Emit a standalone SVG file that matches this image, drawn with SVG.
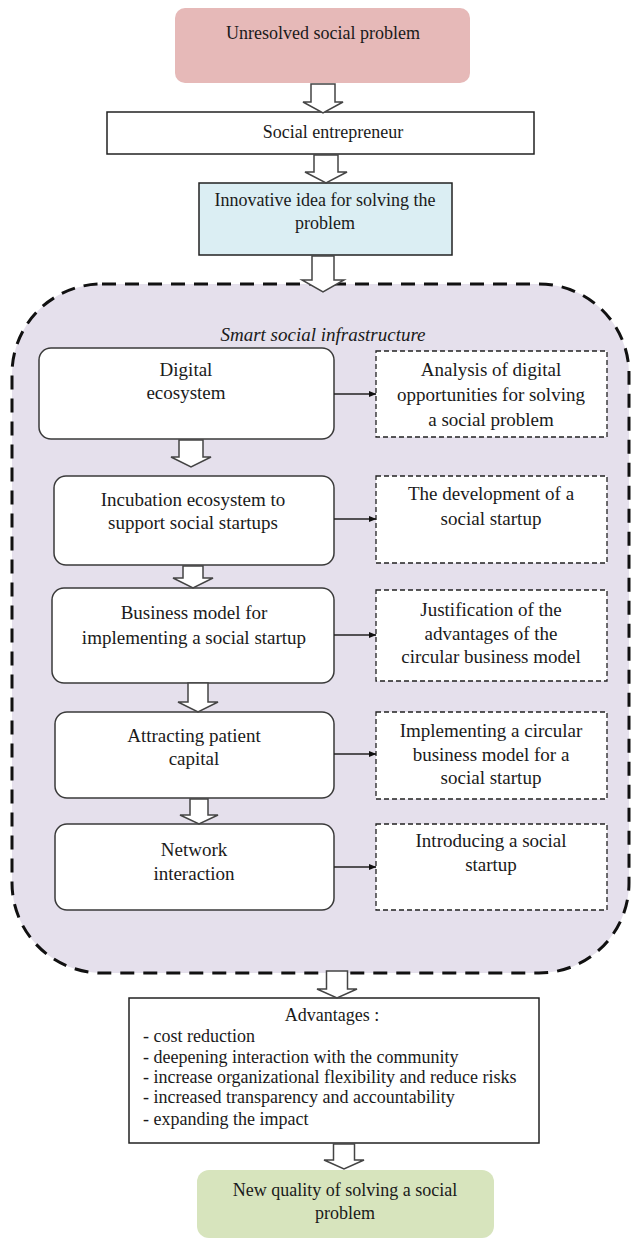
<svg xmlns="http://www.w3.org/2000/svg" width="631" height="1240" viewBox="0 0 631 1240">
<style>
text{font-family:"Liberation Serif","Times New Roman",serif;fill:#1a1a1a;text-anchor:middle}
.n{font-size:19px}
.t{font-size:18px}
.l{font-size:18px;text-anchor:start}
.node{fill:#fff;stroke:#3a3a3a;stroke-width:1.5}
.dbox{fill:#fff;stroke:#222;stroke-width:1.3;stroke-dasharray:5 3}
.blk{fill:#fff;stroke:#444;stroke-width:1.5;stroke-linejoin:miter}
.ln{stroke:#222;stroke-width:1.5;fill:none}
</style>
<defs>
<marker id="ah" viewBox="0 0 8 8" refX="7.5" refY="4" markerWidth="8" markerHeight="8" markerUnits="userSpaceOnUse" orient="auto">
<path d="M0,0.8 L8,4 L0,7.2 Z" fill="#111"/>
</marker>
</defs>
<rect width="631" height="1240" fill="#fff"/>

<g id="infrastructure">
<rect x="12" y="284" width="617" height="689" rx="90" ry="90" fill="#e5e0ec" stroke="#111" stroke-width="3" stroke-dasharray="14 9"/>
<text x="323" y="341" class="n" font-style="italic">Smart social infrastructure</text>
</g>

<g id="unresolved">
<rect x="175" y="8" width="295" height="75" rx="10" fill="#e6b9b8"/>
<text x="323" y="39" class="t">Unresolved social problem</text>
</g>

<g id="entrepreneur">
<rect x="107" y="112" width="427" height="42" fill="#fff" stroke="#222" stroke-width="1.5"/>
<text x="333" y="138" class="t">Social entrepreneur</text>
</g>

<g id="idea">
<rect x="199" y="183" width="253" height="72" fill="#dbeef3" stroke="#222" stroke-width="1.5"/>
<text x="325" y="206" class="t">Innovative idea for solving the</text>
<text x="325" y="229" class="t">problem</text>
</g>

<g id="digital">
<rect x="39" y="348" width="295" height="91" rx="12" class="node"/>
<text x="186" y="376" class="n">Digital</text>
<text x="186" y="399" class="n">ecosystem</text>
</g>
<g id="analysis">
<rect x="376" y="351" width="231" height="86" class="dbox"/>
<text x="491" y="376" class="n">Analysis of digital</text>
<text x="491" y="401" class="n">opportunities for solving</text>
<text x="491" y="426" class="n">a social problem</text>
</g>

<g id="incubation">
<rect x="54" y="476" width="280" height="89" rx="12" class="node"/>
<text x="193" y="506" class="n">Incubation ecosystem to</text>
<text x="193" y="529" class="n">support social startups</text>
</g>
<g id="development">
<rect x="376" y="476" width="231" height="87" class="dbox"/>
<text x="491" y="500" class="n">The development of a</text>
<text x="491" y="525" class="n">social startup</text>
</g>

<g id="business">
<rect x="52" y="588" width="282" height="95" rx="12" class="node"/>
<text x="194" y="619" class="n">Business model for</text>
<text x="194" y="644" class="n">implementing a social startup</text>
</g>
<g id="justification">
<rect x="376" y="590" width="231" height="91" class="dbox"/>
<text x="491" y="616" class="n">Justification of the</text>
<text x="491" y="640" class="n">advantages of the</text>
<text x="491" y="663" class="n">circular business model</text>
</g>

<g id="capital">
<rect x="55" y="712" width="279" height="86" rx="12" class="node"/>
<text x="194" y="742" class="n">Attracting patient</text>
<text x="194" y="765" class="n">capital</text>
</g>
<g id="implementing">
<rect x="376" y="712" width="231" height="87" class="dbox"/>
<text x="491" y="737" class="n">Implementing a circular</text>
<text x="491" y="761" class="n">business model for a</text>
<text x="491" y="784" class="n">social startup</text>
</g>

<g id="network">
<rect x="55" y="824" width="279" height="86" rx="12" class="node"/>
<text x="194" y="856" class="n">Network</text>
<text x="194" y="880" class="n">interaction</text>
</g>
<g id="introducing">
<rect x="376" y="824" width="231" height="86" class="dbox"/>
<text x="491" y="847" class="n">Introducing a social</text>
<text x="491" y="871" class="n">startup</text>
</g>

<g id="advantages">
<rect x="129" y="998" width="410" height="145" fill="#fff" stroke="#222" stroke-width="1.5"/>
<text x="332" y="1021" class="t">Advantages :</text>
<text x="143" y="1042" class="l">- cost reduction</text>
<text x="143" y="1063" class="l">- deepening interaction with the community</text>
<text x="143" y="1083" class="l">- increase organizational flexibility and reduce risks</text>
<text x="143" y="1103" class="l">- increased transparency and accountability</text>
<text x="143" y="1125" class="l">- expanding the impact</text>
</g>

<g id="new-quality">
<rect x="197" y="1170" width="297" height="68" rx="12" fill="#d7e4bd"/>
<text x="345" y="1196" class="t">New quality of solving a social</text>
<text x="345" y="1219" class="t">problem</text>
</g>

<g id="connectors">
<path class="blk" d="M311,84 L335,84 L335,102 L343,102 L323,113 L303,102 L311,102 Z"/>
<path class="blk" d="M314,155 L338,155 L338,172 L347,172 L326,183 L305,172 L314,172 Z"/>
<path class="blk" d="M312,256 L334,256 L334,280 L344,280 L323,292 L302,280 L312,280 Z"/>
<path class="blk" d="M179,440 L203,440 L203,457 L211,457 L191,467 L171,457 L179,457 Z"/>
<path class="blk" d="M183,566 L203,566 L203,578 L213,578 L193,588 L173,578 L183,578 Z"/>
<path class="blk" d="M188,683 L208,683 L208,702 L218,702 L198,712 L178,702 L188,702 Z"/>
<path class="blk" d="M190,799 L208,799 L208,815 L218,815 L199,824 L180,815 L190,815 Z"/>
<path class="blk" d="M326.5,971 L347.5,971 L347.5,989 L357,989 L337,998 L317,989 L326.5,989 Z"/>
<path class="blk" d="M333.5,1144 L354.5,1144 L354.5,1160 L364,1160 L344,1169 L324,1160 L333.5,1160 Z"/>
<line class="ln" x1="334" y1="394" x2="376" y2="394" marker-end="url(#ah)"/>
<line class="ln" x1="334" y1="519" x2="376" y2="519" marker-end="url(#ah)"/>
<line class="ln" x1="334" y1="635" x2="376" y2="635" marker-end="url(#ah)"/>
<line class="ln" x1="334" y1="754" x2="376" y2="754" marker-end="url(#ah)"/>
<line class="ln" x1="334" y1="867" x2="376" y2="867" marker-end="url(#ah)"/>
</g>
</svg>
